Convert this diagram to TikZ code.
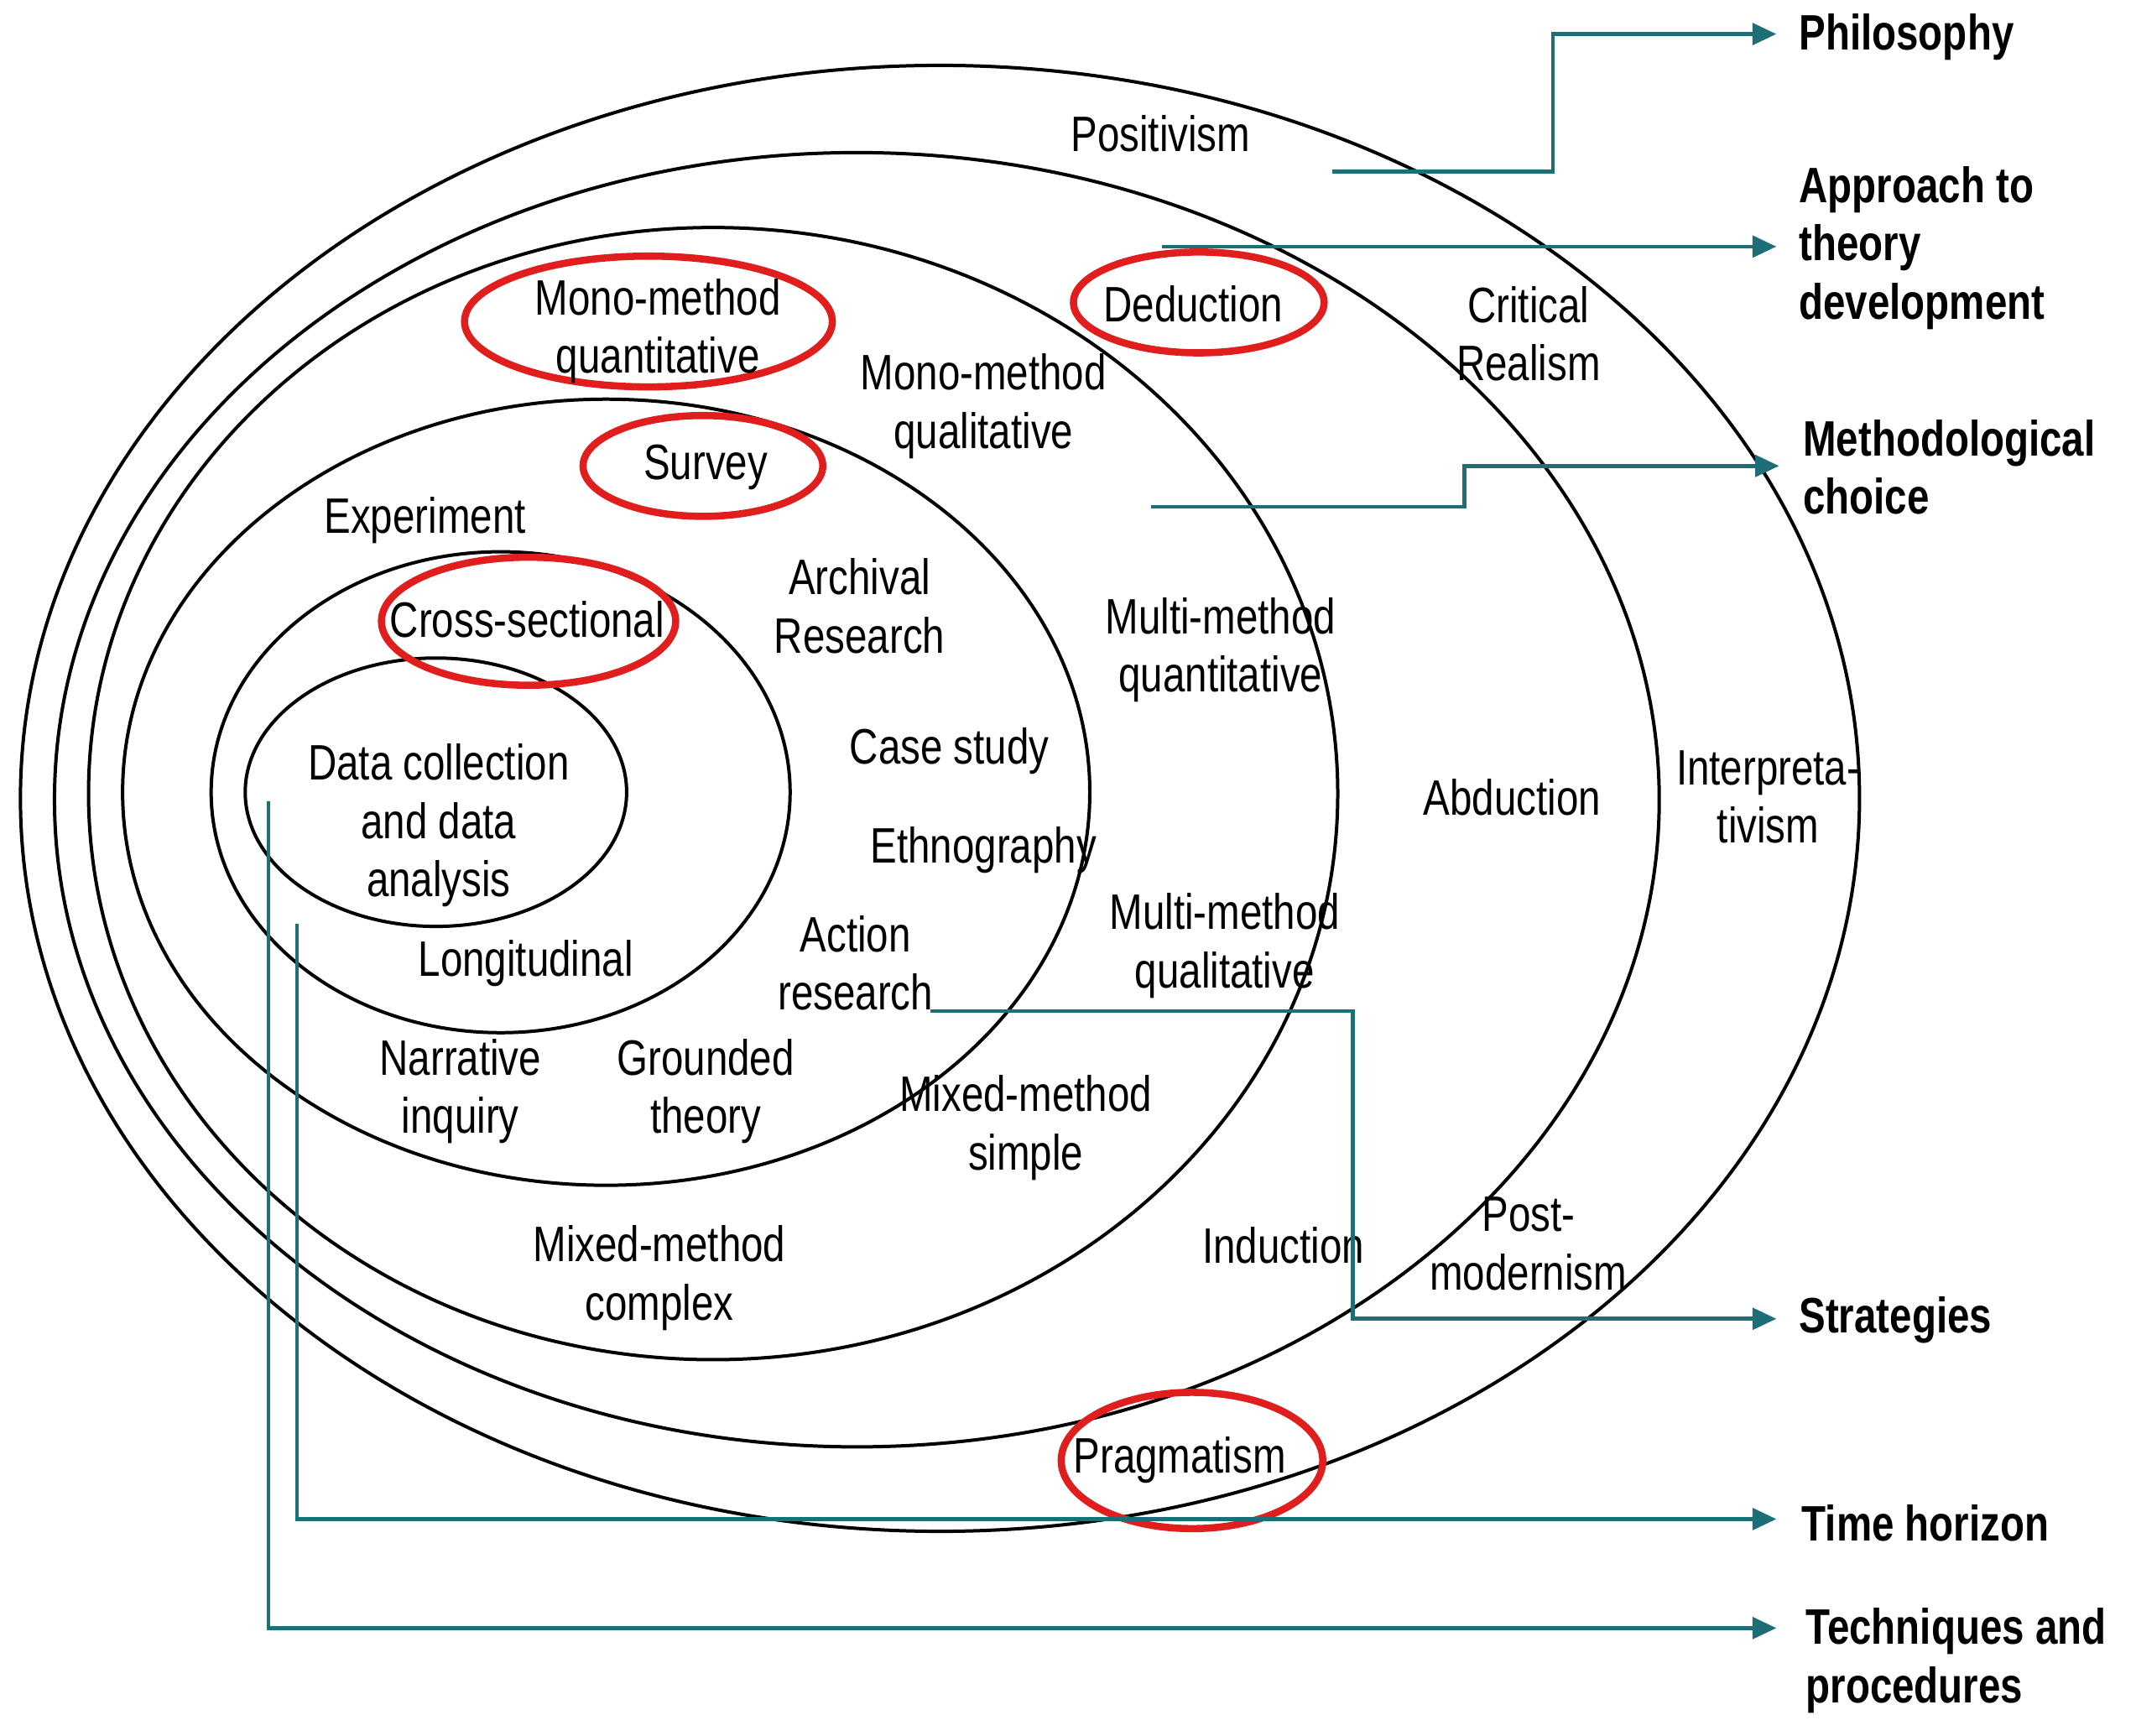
\documentclass[tikz,border=0pt]{standalone}
\usepackage{fontspec}
\setmainfont{Liberation Sans}[FakeStretch=0.8]
\usetikzlibrary{arrows.meta}
\definecolor{teal1}{RGB}{30,110,120}
\definecolor{red1}{RGB}{225,30,30}
\begin{document}
\begin{tikzpicture}[x=1cm,y=-1cm,
  ring/.style={draw=black,line width=0.7pt},
  redmark/.style={draw=red1,line width=1.5pt},
  lab/.style={align=center,font=\fontsize{10.4}{12.2}\selectfont,inner sep=0pt},
  side/.style={align=left,anchor=west,font=\fontsize{10.4}{12.2}\selectfont\bfseries,inner sep=0pt},
  con/.style={draw=teal1,line width=0.8pt,-{Triangle[length=5pt,width=4.5pt]}}]
\useasboundingbox (0,0) rectangle (15.68,12.74);
% rings
\draw[ring] (6.90,5.86) ellipse[x radius=6.75cm,y radius=5.38cm];
\draw[ring] (6.29,5.87) ellipse[x radius=5.89cm,y radius=4.75cm];
\draw[ring] (5.235,5.825) ellipse[x radius=4.585cm,y radius=4.155cm];
\draw[ring] (4.45,5.815) ellipse[x radius=3.55cm,y radius=2.885cm];
\draw[ring] (3.675,5.815) ellipse[x radius=2.125cm,y radius=1.765cm];
\draw[ring] (3.20,5.815) ellipse[x radius=1.40cm,y radius=0.985cm];
% red marks
\draw[redmark] (4.76,2.36) ellipse[x radius=1.35cm,y radius=0.48cm];
\draw[redmark] (8.80,2.22) ellipse[x radius=0.92cm,y radius=0.37cm];
\draw[redmark] (5.16,3.42) ellipse[x radius=0.88cm,y radius=0.37cm];
\draw[redmark] (3.88,4.56) ellipse[x radius=1.08cm,y radius=0.47cm];
\draw[redmark] (8.75,10.72) ellipse[x radius=0.96cm,y radius=0.50cm];
% labels
\node[lab] (pos) at (8.52,0.98) {Positivism};
\node[lab] (cr) at (11.22,2.45) {Critical\\Realism};
\node[lab] (int) at (12.98,5.85) {Interpreta-\\tivism};
\node[lab] (pm) at (11.22,9.13) {Post-\\modernism};
\node[lab] (prag) at (8.66,10.72) {Pragmatism};
\node[lab] (ded) at (8.76,2.23) {Deduction};
\node[lab] (abd) at (11.10,5.85) {Abduction};
\node[lab] (ind) at (9.42,9.14) {Induction};
\node[lab] (mmq) at (4.83,2.43) {Mono-method\\quantitative};
\node[lab] (mml) at (7.22,2.98) {Mono-method\\qualitative};
\node[lab] (mtq) at (8.96,4.77) {Multi-method\\quantitative};
\node[lab] (mtl) at (8.99,6.94) {Multi-method\\qualitative};
\node[lab] (mxs) at (7.53,8.28) {Mixed-method\\simple};
\node[lab] (mxc) at (4.84,9.38) {Mixed-method\\complex};
\node[lab] (sur) at (5.18,3.43) {Survey};
\node[lab] (exp) at (3.12,3.82) {Experiment};
\node[lab] (arc) at (6.31,4.45) {Archival\\Research};
\node[lab] (cas) at (6.97,5.51) {Case study};
\node[lab] (eth) at (7.22,6.24) {Ethnography};
\node[lab] (act) at (6.28,7.07) {Action\\research};
\node[lab] (gro) at (5.18,8.01) {Grounded\\theory};
\node[lab] (nar) at (3.38,8.01) {Narrative\\inquiry};
\node[lab] (cs) at (3.87,4.55) {Cross-sectional};
\node[lab] (lon) at (3.86,7.07) {Longitudinal};
\node[lab] (dc) at (3.22,6.06) {Data collection\\and data\\analysis};
% side labels
\node[side] (sPhil) at (13.20,0.27) {Philosophy};
\node[side] (sApp) at (13.20,1.82) {Approach to\\theory\\development};
\node[side] (sMeth) at (13.23,3.43) {Methodological\\choice};
\node[side] (sStr) at (13.20,9.69) {Strategies};
\node[side] (sTime) at (13.22,11.18) {Time horizon};
\node[side] (sTech) at (13.25,12.19) {Techniques and\\procedures};
% connector start points
\coordinate (c1) at (9.78,1.26);
\coordinate (c2) at (8.53,1.81);
\coordinate (c3) at (8.45,3.72);
\coordinate (c4) at (6.83,7.42);
\coordinate (c5) at (2.18,6.78);
\coordinate (c6) at (1.97,5.88);
\coordinate (e1) at (13.04,0.25);
\coordinate (e2) at (13.04,1.81);
\coordinate (e3) at (13.06,3.42);
\coordinate (e4) at (13.04,9.68);
\coordinate (e5) at (13.04,11.15);
\coordinate (e6) at (13.04,11.95);
% connectors
\draw[con] (c1) -| (11.40,0.25) -- (e1);
\draw[con] (c2) -- (e2);
\draw[con] (c3) -| (10.75,3.42) -- (e3);
\draw[con] (c4) -| (9.93,9.68) -- (e4);
\draw[con] (c5) |- (e5);
\draw[con] (c6) |- (e6);
\end{tikzpicture}
\end{document}
